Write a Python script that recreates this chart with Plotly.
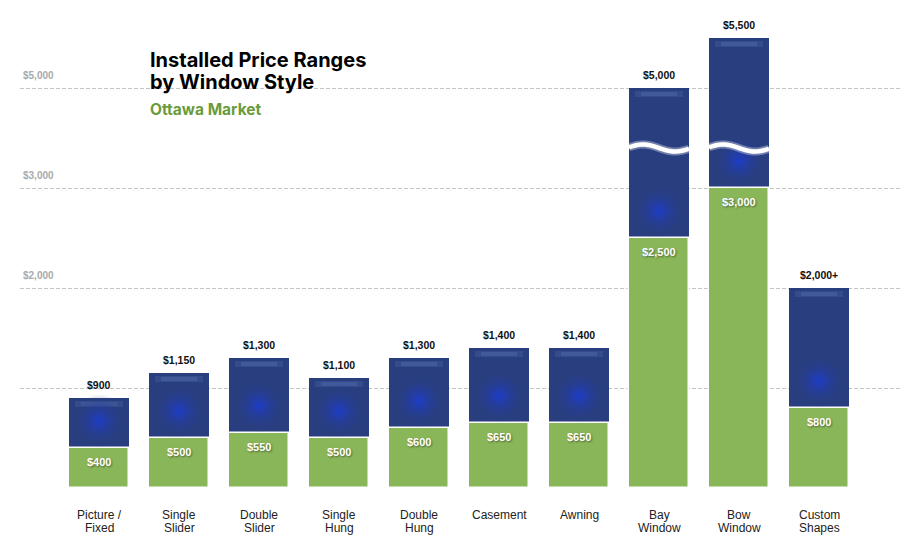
import numpy as np
import plotly.graph_objects as go

# ---------------- data ----------------
categories = ["Picture /\nFixed", "Single\nSlider", "Double\nSlider", "Single\nHung",
              "Double\nHung", "Casement", "Awning", "Bay\nWindow", "Bow\nWindow",
              "Custom\nShapes"]
low_prices = [400, 500, 550, 500, 600, 650, 650, 2500, 3000, 800]
high_prices = [900, 1150, 1300, 1100, 1300, 1400, 1400, 5000, 5500, 2000]
low_labels = ["$400", "$500", "$550", "$500", "$600", "$650", "$650", "$2,500", "$3,000", "$800"]
high_labels = ["$900", "$1,150", "$1,300", "$1,100", "$1,300", "$1,400", "$1,400",
               "$5,000", "$5,500", "$2,000+"]
tick_values = [0, 1000, 2000, 3000, 5000]
tick_labels = ["", "", "$2,000", "$3,000", "$5,000"]

# broken axis: values between BREAK_START and BREAK_START+BREAK_GAP are cut out
BREAK_START = 3400
BREAK_GAP = 1000


def to_axis(v):
    if v <= BREAK_START:
        return v
    return max(BREAK_START, v - BREAK_GAP)


# ---------------- layout constants ----------------
W, H = 920, 550
ML, MR, MT, MB = 20, 20, 18, 62
PLOT_W = W - ML - MR
PLOT_H = H - MT - MB
Y_MAX = 4700                       # axis units at top of plot area
UNITS_PER_PX = Y_MAX / PLOT_H
BAR_W = 0.75

BLUE = "#293e7e"
GREEN = "#8ab65a"


def py_to_paper(py):
    return (H - MB - py) / PLOT_H


def px_to_paper(px):
    return (px - ML) / PLOT_W


idx = list(range(len(categories)))
low_ax = [to_axis(v) for v in low_prices]
high_ax = [to_axis(v) for v in high_prices]

fig = go.Figure()

# blue (range) bars
fig.add_trace(go.Bar(
    x=idx, y=[h - l for h, l in zip(high_ax, low_ax)], base=low_ax, width=BAR_W,
    marker=dict(color=BLUE, line=dict(width=0)), hoverinfo="skip", showlegend=False))

# soft top highlight band on blue bars
for frac, alpha, off, hh in [(0.8, 0.14, 9, 6), (0.6, 0.16, 8, 4)]:
    fig.add_trace(go.Bar(
        x=idx, y=[hh * UNITS_PER_PX] * len(idx),
        base=[h - off * UNITS_PER_PX for h in high_ax],
        width=BAR_W * frac,
        marker=dict(color=f"rgba(130,160,230,{alpha})", line=dict(width=0)),
        hoverinfo="skip", showlegend=False))

# green (starting price) bars
fig.add_trace(go.Bar(
    x=idx, y=low_ax, base=[0] * len(idx), width=BAR_W,
    marker=dict(color=GREEN, line=dict(width=1.5, color="white")),
    hoverinfo="skip", showlegend=False))

# glow at the bottom of each blue section
fig.add_trace(go.Scatter(
    x=idx, y=[l + 27 * UNITS_PER_PX for l in low_ax], mode="markers",
    marker=dict(size=54, color="rgba(41,62,126,0)", line=dict(width=0),
                gradient=dict(type="radial", color="rgba(30,60,200,1)")),
    hoverinfo="skip", showlegend=False))

# axis-break waves on bars crossing the break
wave_x = np.linspace(-BAR_W / 2, BAR_W / 2, 60)
for i, h in zip(idx, high_prices):
    if h > BREAK_START + BREAK_GAP:
        xs = i + wave_x
        px_off = (wave_x + BAR_W / 2) * (PLOT_W / 11.0)
        ys = BREAK_START + 3.5 * UNITS_PER_PX * np.cos(2 * np.pi * (px_off - 14) / 64)
        fig.add_trace(go.Scatter(x=xs, y=ys, mode="lines",
                                 line=dict(color="rgba(255,255,255,0.35)", width=8, shape="spline"),
                                 hoverinfo="skip", showlegend=False))
        fig.add_trace(go.Scatter(x=xs, y=ys, mode="lines",
                                 line=dict(color="white", width=4.5, shape="spline"),
                                 hoverinfo="skip", showlegend=False))

annotations = []
# high labels above bars
for i, v, t in zip(idx, high_ax, high_labels):
    annotations.append(dict(x=i, y=v, text=t, showarrow=False, yanchor="middle", yshift=13,
                            font=dict(family="Liberation Sans", size=10.5, color="#111", weight=700)))
# low labels inside green bars
for i, v, t in zip(idx, low_ax, low_labels):
    annotations.append(dict(x=i, y=v, text=t, showarrow=False, yanchor="middle", yshift=-14,
                            font=dict(family="Liberation Sans", size=11, color="white", weight=700,
                                      shadow="1px 1px 2px rgba(0,0,0,0.45)")))
# category labels (two tight lines)
for i, c in zip(idx, categories):
    for k, line in enumerate(c.split("\n")):
        annotations.append(dict(x=i, y=0, text=line, showarrow=False, yanchor="middle",
                                yshift=-(27 + 12.5 * k),
                                font=dict(family="Liberation Sans", size=12, color="#222")))

# title block
annotations += [
    dict(xref="paper", yref="paper", x=px_to_paper(148), y=py_to_paper(60), xanchor="left",
         yanchor="middle", text="Installed Price Ranges", showarrow=False,
         font=dict(family="Inter", size=20, color="#000", weight=700)),
    dict(xref="paper", yref="paper", x=px_to_paper(148), y=py_to_paper(82), xanchor="left",
         yanchor="middle", text="by Window Style", showarrow=False,
         font=dict(family="Inter", size=20, color="#000", weight=700)),
    dict(xref="paper", yref="paper", x=px_to_paper(148), y=py_to_paper(110), xanchor="left",
         yanchor="middle", text="Ottawa Market", showarrow=False,
         font=dict(family="Inter", size=15.5, color="#6b9b3a", weight=700)),
]

shapes = [dict(type="rect", xref="paper", yref="paper", layer="between",
               x0=px_to_paper(126), x1=px_to_paper(330), y0=py_to_paper(96), y1=py_to_paper(80),
               fillcolor="white", line=dict(width=0))]

fig.update_layout(
    width=W, height=H, margin=dict(l=ML, r=MR, t=MT, b=MB),
    paper_bgcolor="white", plot_bgcolor="white",
    barmode="overlay", bargap=0,
    annotations=annotations, shapes=shapes,
    xaxis=dict(range=[-0.9875, 10.0125], showticklabels=False, showgrid=False,
               zeroline=False, showline=False, ticks="", fixedrange=True),
    yaxis=dict(range=[0, Y_MAX], tickmode="array",
               tickvals=[to_axis(v) for v in tick_values], ticktext=tick_labels,
               ticklabelposition="inside top", ticklabelshift=-6, showgrid=True,
               gridcolor="#c4c4c4", griddash="4px,2px", gridwidth=1, zeroline=False,
               showline=False,
               tickfont=dict(family="Liberation Sans", size=10, color="#aaaaaa", weight=700),
               fixedrange=True),
    font=dict(family="Liberation Sans"),
)

fig.write_html("out.html")
